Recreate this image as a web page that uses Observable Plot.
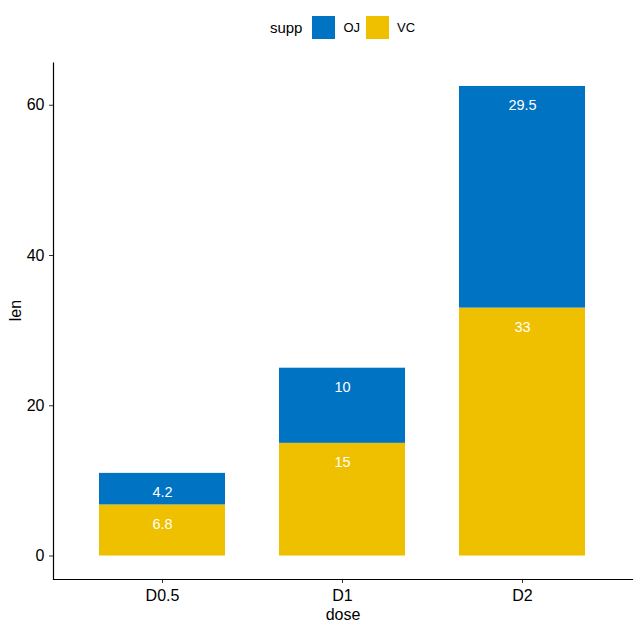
<!DOCTYPE html>
<html>
<head>
<meta charset="utf-8">
<script src="https://cdn.jsdelivr.net/npm/d3@7"></script>
<script src="https://cdn.jsdelivr.net/npm/@observablehq/plot@0.6"></script>
<style>
  body { margin: 0; background: #fff; font-family: "Liberation Sans", Arial, sans-serif; }
  #legend { height: 50px; display: flex; align-items: center; justify-content: center; padding-left: 53px; padding-top: 4px; box-sizing: border-box; }
  #legend .title { font-size: 15px; margin-right: 10px; color: #000; }
  #legend .sw { width: 23px; height: 23px; display: inline-block; margin-right: 8px; }
  #legend .lab { font-size: 13px; margin-right: 9px; color: #000; }
  #legend .lab.first { margin-right: 6px; }
  #chart svg { display: block; }
</style>
</head>
<body>
<div id="legend"></div>
<div id="chart"></div>
<script>
const doses = ["D0.5", "D1", "D2"];
const supps = ["VC", "OJ"];
const vcLen = [6.8, 15, 33];
const ojLen = [4.2, 10, 29.5];
const yTicks = [0, 20, 40, 60];
const colors = { OJ: "#0073C2", VC: "#EFC000" };

const data = [];
doses.forEach((d, i) => data.push({ dose: d, supp: "VC", len: vcLen[i] }));
doses.forEach((d, i) => data.push({ dose: d, supp: "OJ", len: ojLen[i] }));

const total = d3.max(doses.map((d, i) => vcLen[i] + ojLen[i]));
const pad = total * 0.05;

// legend
const lg = document.getElementById("legend");
lg.innerHTML = `<span class="title">supp</span>` +
  ["OJ", "VC"].map((s, i) => `<span class="sw" style="background:${colors[s]}"></span><span class="lab${i === 0 ? " first" : ""}">${s}</span>`).join("");

const chart = Plot.plot({
  width: 641,
  height: 580,
  marginTop: 12.5,
  marginBottom: 51,
  marginLeft: 53,
  marginRight: 9,
  style: { fontFamily: "Liberation Sans, Arial, sans-serif", fontSize: "16px", color: "#000", background: "#fff" },
  x: { domain: doses, paddingInner: 0.3, paddingOuter: 0.25, label: null },
  y: { domain: [-pad, total + pad], label: null },
  color: { domain: ["OJ", "VC"], range: [colors.OJ, colors.VC] },
  marks: [
    Plot.barY(data, Plot.stackY({ x: "dose", y: "len", fill: "supp", order: null })),
    Plot.text(data, Plot.stackY2({ x: "dose", y: "len", order: null, text: d => String(d.len), fill: "white", dy: 19, fontSize: 14.5 })),
    Plot.axisY(yTicks, { tickSize: 4, tickPadding: 5, fontSize: 16, stroke: "#333", fill: "#000", label: null }),
    Plot.axisX({ tickSize: 4, tickPadding: 6, fontSize: 16, stroke: "#333", fill: "#000", label: null }),
    Plot.frame({ anchor: "left", stroke: "#000", strokeWidth: 1.2 }),
    Plot.frame({ anchor: "bottom", stroke: "#000", strokeWidth: 1.2 }),
    Plot.text(["len"], { frameAnchor: "left", dx: -38, rotate: -90, fontSize: 16, fill: "#000" }),
    Plot.text(["dose"], { frameAnchor: "bottom", dy: 40, fontSize: 16, fill: "#000" })
  ]
});
document.getElementById("chart").appendChild(chart);
</script>
</body>
</html>
